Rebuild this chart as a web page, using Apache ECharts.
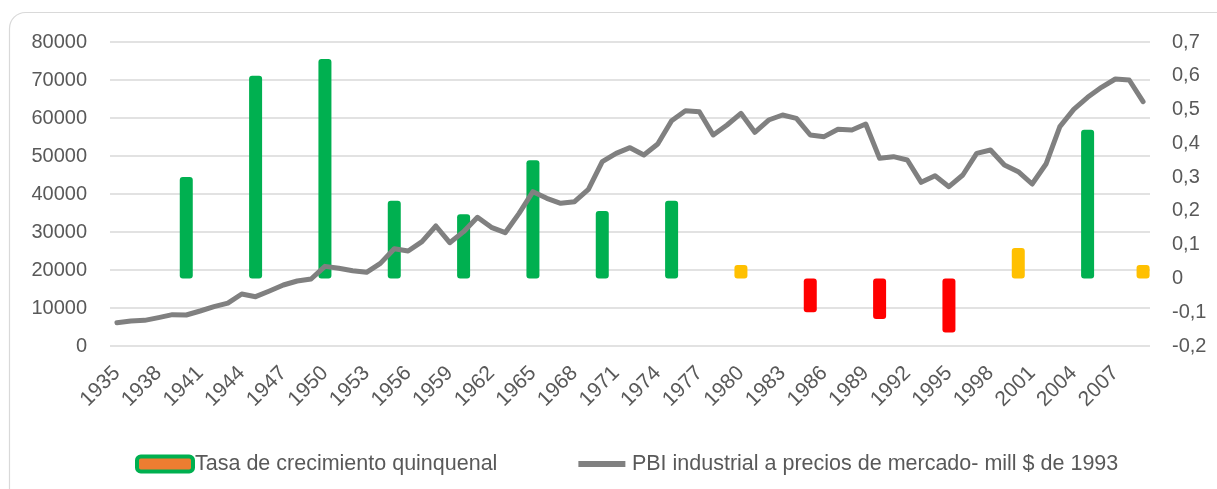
<!DOCTYPE html>
<html>
<head>
<meta charset="utf-8">
<script src="https://cdn.jsdelivr.net/npm/echarts@6/dist/echarts.min.js"></script>
<style>
  html, body { margin: 0; padding: 0; background: #fff; }
  #container { width: 1217px; height: 489px; }
</style>
</head>
<body>
<div id="container"></div>
<script>
var years = [];
for (var y = 1935; y <= 2009; y++) { years.push(String(y)); }

// PBI industrial a precios de mercado - mill $ de 1993
var pbi = [
  6140, 6580, 6750, 7460, 8250, 8160, 9210, 10350, 11300, 13680,
  12980, 14470, 16050, 17100, 17630, 20960, 20440, 19820, 19390, 21750,
  25610, 25000, 27460, 31580, 27190, 30090, 33860, 31230, 29820, 34910,
  40610, 38860, 37540, 37980, 41230, 48510, 50700, 52190, 50260, 53160,
  59300, 61930, 61670, 55530, 58160, 61230, 56230, 59470, 60790, 59910,
  55530, 55090, 57020, 56840, 58420, 49390, 49820, 48950, 43070, 44820,
  41930, 45000, 50700, 51580, 47630, 45880, 42630, 47890, 57720, 62280,
  65440, 68070, 70260, 70000, 64300
];

// Tasa de crecimiento quinquenal
var tasaYears = ['1940', '1945', '1950', '1955', '1960', '1965', '1970', '1975',
  '1980', '1985', '1990', '1995', '2000', '2005', '2009'];
var tasaValues = [0.30, 0.60, 0.65, 0.23, 0.19, 0.35, 0.20, 0.23,
  0.04, -0.10, -0.12, -0.16, 0.09, 0.44, 0.04];

var tasaData = years.map(function (yr) {
  var k = tasaYears.indexOf(yr);
  if (k < 0) return '-';
  var v = tasaValues[k];
  var c = v < 0 ? '#FF0000' : (v < 0.15 ? '#FFC000' : '#00B050');
  return { value: v, itemStyle: { color: c } };
});

var dom = document.getElementById('container');
var myChart = echarts.init(dom);
var font = 'Liberation Sans';
var option = {
  animation: false,
  textStyle: { fontFamily: font },
  graphic: [{
    type: 'rect',
    shape: { x: 9.5, y: 12.5, width: 1240, height: 520, r: 16 },
    style: { fill: 'none', stroke: '#D9D9D9', lineWidth: 1.2 },
    z: -1
  }],
  grid: { left: 110, right: 67, top: 42, bottom: 143 },
  legend: {
    left: 130,
    top: 447,
    itemWidth: 56,
    itemHeight: 15,
    itemGap: 72,
    textStyle: { fontSize: 21.5, color: '#595959', fontFamily: font, padding: [0, 0, 0, -3] },
    data: [
      { name: 'Tasa de crecimiento quinquenal', icon: 'roundRect',
        itemStyle: { color: '#ED7D31', borderColor: '#00B050', borderWidth: 4 } },
      { name: 'PBI industrial a precios de mercado- mill $ de 1993', icon: 'roundRect',
        itemStyle: { color: '#808080', borderColor: '#ffffff', borderWidth: 9 } }
    ]
  },
  xAxis: {
    type: 'category',
    data: years,
    boundaryGap: true,
    axisLine: { show: false },
    axisTick: { show: false },
    axisLabel: {
      interval: 2,
      rotate: 45,
      fontSize: 21,
      color: '#595959',
      margin: 24
    }
  },
  yAxis: [{
    type: 'value',
    min: 0, max: 80000, interval: 10000,
    axisLabel: { fontSize: 20, color: '#595959', margin: 23, formatter: function (v) { return String(v); } },
    axisLine: { show: false },
    axisTick: { show: false },
    splitLine: { lineStyle: { color: '#D9D9D9', width: 1.5 } }
  }, {
    type: 'value',
    min: -0.2, max: 0.7, interval: 0.1,
    axisLabel: {
      fontSize: 20, color: '#595959', margin: 22,
      formatter: function (v) { return (Math.round(v * 10) / 10).toString().replace('.', ','); }
    },
    axisLine: { show: false },
    axisTick: { show: false },
    splitLine: { show: false }
  }],
  series: [{
    name: 'Tasa de crecimiento quinquenal',
    type: 'bar',
    yAxisIndex: 1,
    barWidth: 13,
    itemStyle: { borderRadius: 3 },
    data: tasaData
  }, {
    name: 'PBI industrial a precios de mercado- mill $ de 1993',
    type: 'line',
    yAxisIndex: 0,
    data: pbi,
    symbol: 'none',
    lineStyle: { color: '#808080', width: 5, join: 'round', cap: 'round' },
    itemStyle: { color: '#808080' },
    z: 3
  }]
};
myChart.setOption(option, true);
</script>
</body>
</html>
